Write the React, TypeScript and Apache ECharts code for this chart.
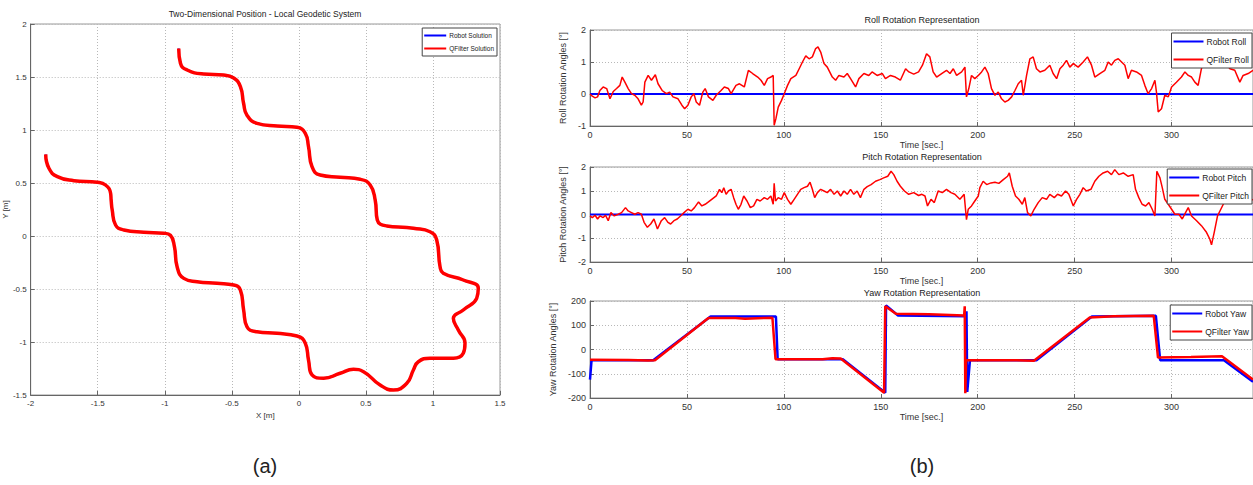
import React, { useEffect, useRef } from 'react';
import * as echarts from 'echarts';

// ---- (a) trajectory, X [m], Y [m] ----
const trajectory: [number, number][] = [
  [-0.896, 1.77], [-0.883, 1.63], [-0.833, 1.566], [-0.71, 1.528], [-0.561, 1.519], [-0.486, 1.49],
  [-0.436, 1.41], [-0.412, 1.25], [-0.387, 1.14], [-0.312, 1.063], [-0.163, 1.038], [-0.014, 1.025],
  [0.048, 0.969], [0.072, 0.842], [0.098, 0.654], [0.159, 0.575], [0.308, 0.554], [0.457, 0.535],
  [0.532, 0.481], [0.569, 0.34], [0.585, 0.151], [0.656, 0.095], [0.805, 0.08], [0.854, 0.073],
  [0.978, 0.04], [1.028, -0.038], [1.053, -0.29], [1.077, -0.352], [1.226, -0.415], [1.338, -0.494],
  [1.326, -0.588], [1.226, -0.698], [1.152, -0.777], [1.189, -0.887], [1.239, -1.012], [1.226, -1.107],
  [1.152, -1.154], [0.978, -1.154], [0.891, -1.186], [0.854, -1.264], [0.805, -1.39], [0.705, -1.453],
  [0.606, -1.406], [0.482, -1.28], [0.407, -1.258], [0.308, -1.295], [0.184, -1.342], [0.098, -1.311],
  [0.072, -1.17], [0.048, -1.012], [-0.014, -0.943], [-0.163, -0.918], [-0.312, -0.903], [-0.387, -0.856],
  [-0.412, -0.698], [-0.436, -0.51], [-0.486, -0.462], [-0.61, -0.446], [-0.759, -0.431], [-0.858, -0.4],
  [-0.908, -0.29], [-0.928, -0.1], [-0.958, 0.007], [-1.007, 0.026], [-1.156, 0.035], [-1.305, 0.057],
  [-1.367, 0.104], [-1.392, 0.245], [-1.4, 0.34], [-1.404, 0.403], [-1.442, 0.481], [-1.503, 0.507],
  [-1.678, 0.522], [-1.801, 0.56], [-1.864, 0.639], [-1.888, 0.77],
];

// ---- (b) roll [deg] vs time [s] ----
const robotRoll: [number, number][] = [[0, 0], [342, 0]];
const qfilterRoll: [number, number][] = [
  [0, 0], [1, -0.06], [2.6, -0.12], [3.9, -0.09], [5.1, 0.11], [6.8, 0.22], [8.6, 0.17], [10.3, -0.15],
  [12, 0.08], [13.7, 0.17], [15.4, 0.27], [16.6, 0.53], [18, 0.37], [19.7, 0.17], [21.4, 0.01], [23.1, -0.04],
  [24.8, -0.15], [26.5, -0.35], [27.4, -0.25], [28.3, 0.37], [30, 0.58], [31.7, 0.43], [33.7, 0.6], [35.1, 0.32],
  [37.2, 0.11], [39.4, 0.01], [41.1, 0.06], [42.8, -0.09], [45.4, -0.15], [47.4, -0.35], [48.8, -0.46], [50.5, -0.35],
  [52.2, -0.09], [53.6, 0.01], [54.8, -0.25], [56.5, -0.35], [58.2, 0.06], [59.4, 0.17], [61.1, -0.09], [63.4, -0.2],
  [65.1, -0.04], [67.6, 0.11], [69.3, 0.22], [71.4, 0.17], [72.8, 0.01], [75.3, 0.27], [77.1, 0.32], [79.6, 0.22],
  [81.7, 0.74], [83.9, 0.64], [86.5, 0.53], [88.2, 0.43], [89.9, 0.27], [91.6, 0.48], [93.3, 0.53], [94.5, 0.58],
  [95, -0.98], [95.9, -0.77], [97.1, -0.41], [98.8, -0.2], [100.2, 0.01], [101.9, 0.27], [103.6, 0.48], [106.2, 0.58],
  [107.9, 0.79], [109.6, 1.0], [111.3, 1.19], [113, 1.1], [114.7, 1.16], [116.4, 1.42], [117.6, 1.47], [119, 1.31],
  [120.7, 0.95], [122.4, 0.84], [125, 0.53], [126.7, 0.43], [128.4, 0.58], [131, 0.53], [132.7, 0.64], [134.4, 0.48],
  [137, 0.22], [138.7, 0.48], [141.3, 0.64], [143.8, 0.58], [145.5, 0.69], [148.1, 0.58], [150.8, 0.64], [152.4, 0.48],
  [155, 0.58], [157.5, 0.53], [160.1, 0.43], [162.8, 0.79], [164.5, 0.69], [167, 0.62], [169.5, 0.69], [171.5, 0.9],
  [173.6, 1.26], [175.3, 1.16], [177, 0.69], [178.8, 0.53], [181.4, 0.64], [183.9, 0.74], [185.7, 0.64], [187.4, 0.79],
  [189.1, 0.58], [191.7, 0.69], [193.4, 0.84], [194.2, -0.09], [195.4, 0.17], [196.8, 0.58], [198.5, 0.48], [200.3, 0.58],
  [202, 0.69], [203.7, 0.84], [205.4, 0.64], [207.1, 0.17], [208.9, -0.04], [210.6, 0.06], [212.3, -0.15], [214, -0.25],
  [215.7, -0.2], [217.5, -0.09], [219.2, 0.11], [220.9, 0.32], [222.6, 0.43], [223.5, -0.04], [225.2, 0.58], [226.9, 1.1],
  [228.6, 1.16], [230.3, 0.79], [232.1, 0.69], [234.6, 0.74], [237.2, 0.9], [238.9, 0.64], [240.7, 0.48], [242.4, 0.79],
  [244.1, 0.9], [245.8, 1.05], [247.5, 0.84], [249.3, 0.95], [251.8, 0.84], [254.4, 1.0], [256.6, 1.16], [258.7, 0.9],
  [260.4, 0.53], [263, 0.64], [265.6, 0.74], [267.3, 1.0], [269, 0.9], [270.7, 1.05], [272.5, 1.1], [274.2, 1.0],
  [275.9, 0.9], [277.6, 0.48], [279.3, 0.74], [281.9, 0.69], [284.5, 0.58], [286.2, 0.27], [287.9, 0.01], [289.7, 0.17],
  [291.4, 0.43], [292.2, 0.06], [293.1, -0.56], [294.8, -0.46], [296.5, -0.04], [298.3, -0.09], [300, 0.22], [302.5, 0.37],
  [305.1, 0.53], [306.9, 0.69], [308.6, 0.58], [310.3, 0.53], [312, 0.37], [313.7, 0.27], [315.4, 0.79], [317.2, 1.1],
  [320, 1.15], [323.2, 1.0], [324.9, 0.84], [327.5, 1.0], [330.1, 0.79], [332.6, 0.74], [335.2, 0.37], [336.9, 0.58],
  [339.5, 0.64], [342, 0.74],
];

// ---- (b) pitch [deg] vs time [s] ----
const robotPitch: [number, number][] = [[0, 0], [342, 0]];
const qfilterPitch: [number, number][] = [
  [0, -0.06], [1.2, -0.13], [2.6, -0.03], [3.9, -0.19], [5.1, -0.06], [6.8, -0.13], [8, -0.03], [9.4, -0.26],
  [10.8, 0.08], [12.5, -0.06], [14.6, 0.01], [16.3, 0.08], [18.3, 0.29], [19.7, 0.15], [21.4, 0.08], [23.1, 0.01],
  [24.8, 0.08], [26.5, 0.01], [27.9, -0.33], [29.6, -0.54], [31.3, -0.4], [33, -0.19], [34.8, -0.61], [36.8, -0.26],
  [38.5, -0.13], [40.2, -0.33], [41.6, -0.4], [43.3, -0.26], [45, -0.19], [46.7, -0.06], [48.5, 0.08], [50.5, 0.22],
  [52.2, 0.15], [53.9, 0.29], [56, 0.53], [57.7, 0.36], [59.4, 0.43], [61.1, 0.53], [62.8, 0.64], [65.1, 0.78],
  [66.8, 1.06], [68, 0.92], [69, 1.13], [70.2, 0.85], [71.4, 0.99], [72.8, 1.06], [74.1, 0.71], [75.3, 0.43],
  [76.5, 0.22], [77.9, 0.43], [79.3, 0.78], [81, 0.57], [82.7, 0.29], [84.4, 0.36], [86.1, 0.64], [87.8, 0.57],
  [89.9, 0.71], [91.6, 0.64], [93.3, 0.78], [94.5, 0.43], [95, 1.31], [95.7, 0.57], [97.1, 0.71], [98.8, 0.64],
  [100.2, 0.92], [101.9, 0.64], [103.6, 0.43], [105.3, 0.64], [107, 0.85], [108.7, 1.06], [110.4, 1.13], [112.2, 1.19],
  [113.5, 1.36], [114.7, 1.06], [115.9, 0.71], [117.3, 0.92], [119, 1.06], [120.7, 0.99], [122.4, 0.92], [124.1, 1.06],
  [125.9, 0.85], [127.6, 0.99], [129.3, 0.78], [131, 0.99], [132.7, 0.85], [134.4, 1.06], [136.1, 0.85], [137.8, 0.99],
  [139.5, 0.71], [141.3, 1.06], [143, 1.17], [145, 1.26], [147.3, 1.4], [149.5, 1.47], [151.5, 1.54], [153.6, 1.61],
  [155.3, 1.82], [156.7, 1.68], [158.4, 1.4], [160.1, 1.19], [162.2, 0.99], [164.4, 0.85], [167, 0.92], [169.5, 0.8],
  [171.2, 0.85], [172.8, 0.78], [174.1, 0.36], [175.9, 0.64], [177.6, 0.5], [179.6, 0.99], [181.7, 0.92], [183.9, 1.06],
  [186.2, 0.92], [188.2, 0.85], [190.8, 0.64], [193, 0.85], [194.2, -0.22], [195.1, 0.22], [196.8, 0.36], [198.5, 0.57],
  [200.3, 0.78], [201.1, 1.13], [202.8, 1.4], [204.6, 1.26], [206.8, 1.33], [208.9, 1.36], [210.9, 1.31], [213.2, 1.47],
  [215.4, 1.61], [216.3, 1.75], [217.8, 1.19], [219.5, 0.78], [221.2, 0.64], [223, 0.43], [224.3, 0.71], [225.7, 0.08],
  [227.4, -0.06], [229.1, 0.22], [231.2, 0.5], [233.3, 0.71], [235.5, 0.64], [237.2, 0.85], [239.5, 0.71], [241.2, 0.85],
  [243.2, 0.78], [245.3, 0.99], [247, 0.85], [249.3, 0.36], [251, 0.64], [252.7, 0.85], [254.4, 1.13], [256.1, 0.99],
  [258.4, 1.06], [260.4, 1.4], [262.5, 1.61], [264.7, 1.75], [267, 1.82], [269, 1.68], [270.7, 1.89], [272.8, 1.68],
  [275.1, 1.75], [277.6, 1.61], [280.2, 1.68], [281.4, 1.06], [283.1, 0.71], [284.8, 0.43], [286.6, 0.36], [288.3, 0.5],
  [290, 0.22], [291.4, -0.06], [292.4, 1.82], [294, 1.54], [295.2, 1.13], [296.5, 0.64], [298.3, 0.43], [300, 0.22],
  [301.7, 0.01], [303.8, 0.01], [305.5, -0.19], [307.2, 0.08], [308.6, 0.29], [310.3, -0.06], [312.9, -0.26], [315.4, -0.47],
  [318, -0.75], [319.7, -1.03], [320.6, -1.28], [322, -0.75], [323.7, -0.06], [325.4, 0.22], [327.5, 0.57], [330.1, 0.85],
  [332.6, 0.71], [335.2, 0.64], [337.8, 0.71], [340.4, 0.57], [342, 0.64],
];

// ---- (b) yaw [deg] vs time [s] ----
const robotYaw: [number, number][] = [
  [0, -124], [0.8, -44], [32.6, -44], [62.2, 136], [95.9, 136], [96.8, -40], [130.4, -40], [152.3, -178],
  [152.7, 182], [158.9, 140], [194.1, 137], [194.2, 158], [194.6, -175], [196, -44], [230.3, -44], [258.9, 136],
  [291.9, 139], [294.1, -44], [327, -44], [342, -133],
];
const qfilterYaw: [number, number][] = [
  [0, -42], [20, -43], [30, -45], [33.5, -44], [61.1, 130], [75, 130], [80, 127], [90, 130], [94.1, 131],
  [95.7, -40], [120, -40], [125, -36], [129.3, -37], [151.7, -178], [152.3, 178], [157.8, 147], [175, 145],
  [193, 140], [193.3, 178], [193.6, -180], [194, -44], [220, -44], [229, -46], [257.8, 132], [270, 137],
  [290.8, 139], [293, -33], [310, -31], [326, -28], [342, -124],
];

const NARROW = "'Liberation Sans Narrow', 'Liberation Sans', Arial, sans-serif";
const SANS = "'Liberation Sans', Arial, sans-serif";
const BLUE = '#0000ff';
const RED = '#ff0000';

function baseAxis(gridIndex: number, fontSize: number, family: string) {
  return {
    type: 'value',
    gridIndex,
    axisLine: { show: true, onZero: false, lineStyle: { color: '#666', width: 1 } },
    axisTick: { show: true, inside: true, length: 4, lineStyle: { color: '#666' } },
    axisLabel: { fontSize, color: '#333', margin: 4, fontFamily: family },
    splitLine: { show: true, lineStyle: { color: '#b8b8b8', type: [1, 2], width: 1 } },
    nameTextStyle: { fontSize, color: '#333', fontFamily: family },
    nameLocation: 'middle',
  };
}

function timeAxis(gridIndex: number) {
  const a: any = baseAxis(gridIndex, 9, SANS);
  return {
    ...a,
    min: 0,
    max: 342,
    interval: 50,
    name: 'Time [sec.]',
    nameGap: 14,
    axisLabel: { ...a.axisLabel, showMaxLabel: false },
  };
}

function angleAxis(gridIndex: number, name: string, min: number, max: number, interval: number) {
  const a: any = baseAxis(gridIndex, 9, SANS);
  return { ...a, min, max, interval, name, nameGap: min <= -100 ? 24 : 13, nameRotate: 90 };
}

function lineSeries(name: string, data: [number, number][], color: string, width: number, idx: number, smooth = false) {
  return {
    type: 'line',
    name,
    data,
    xAxisIndex: idx,
    yAxisIndex: idx,
    symbol: 'none',
    showSymbol: false,
    smooth,
    lineStyle: { color, width },
    itemStyle: { color },
    silent: true,
  };
}

function legend(names: string[], right: number, top: number, fontSize: number, family: string, itemWidth: number, gap: number) {
  return {
    data: names.map((n) => ({ name: n, icon: 'rect' })),
    orient: 'vertical',
    right,
    top,
    itemWidth,
    itemHeight: 2,
    itemGap: gap,
    padding: [4, 3, 4, 2],
    borderColor: '#444',
    borderWidth: 1,
    backgroundColor: '#fff',
    textStyle: { fontSize, color: '#222', fontFamily: family, padding: [0, 0, 0, -2] },
    selectedMode: false,
  };
}

function label(text: string, x: number, y: number, fontSize: number, family: string) {
  return {
    type: 'text',
    x,
    y,
    style: { text, fontSize, fontFamily: family, fill: '#222', textAlign: 'center', textVerticalAlign: 'middle' },
    silent: true,
  };
}

export default function App() {
  const ref = useRef<HTMLDivElement>(null);

  useEffect(() => {
    if (!ref.current) return;
    const chart = echarts.init(ref.current, null, { renderer: 'svg' });
    const gridStyle = { show: true, borderColor: '#999', borderWidth: 1, backgroundColor: 'transparent' };

    const leftX: any = baseAxis(0, 8, NARROW);
    const leftY: any = baseAxis(0, 8, NARROW);

    const option: any = {
      animation: false,
      backgroundColor: '#fff',
      grid: [
        { left: 30, top: 24, width: 470, height: 371, ...gridStyle },
        { left: 590, top: 30, width: 663, height: 96, ...gridStyle },
        { left: 590, top: 167, width: 663, height: 95, ...gridStyle },
        { left: 590, top: 301, width: 663, height: 97, ...gridStyle },
      ],
      xAxis: [
        { ...leftX, min: -2, max: 1.5, interval: 0.5, name: 'X [m]', nameGap: 13 },
        timeAxis(1),
        timeAxis(2),
        timeAxis(3),
      ],
      yAxis: [
        { ...leftY, min: -1.5, max: 2, interval: 0.5, name: 'Y [m]', nameGap: 14, nameRotate: 90 },
        angleAxis(1, 'Roll Rotation Angles [°]', -1, 2, 1),
        angleAxis(2, 'Pitch Rotation Angles [°]', -2, 2, 1),
        angleAxis(3, 'Yaw Rotation Angles [°]', -200, 200, 100),
      ],
      legend: [
        legend(['Robot Solution', 'QFilter Solution'], 756, 28, 6.5, NARROW, 22, 6),
        legend(['Robot Roll', 'QFilter Roll'], 1, 33, 8.5, SANS, 30, 9),
        legend(['Robot Pitch', 'QFilter Pitch'], 1, 169, 8.5, SANS, 30, 9),
        legend(['Robot Yaw', 'QFilter Yaw'], 1, 305, 8.5, SANS, 30, 9),
      ],
      series: [
        lineSeries('Robot Solution', trajectory, BLUE, 2, 0, true),
        lineSeries('QFilter Solution', trajectory, RED, 3.5, 0, true),
        lineSeries('Robot Roll', robotRoll, BLUE, 2, 1),
        lineSeries('QFilter Roll', qfilterRoll, RED, 1.5, 1),
        lineSeries('Robot Pitch', robotPitch, BLUE, 2, 2),
        lineSeries('QFilter Pitch', qfilterPitch, RED, 1.5, 2),
        lineSeries('Robot Yaw', robotYaw, BLUE, 2.5, 3),
        lineSeries('QFilter Yaw', qfilterYaw, RED, 2.5, 3),
      ],
      graphic: [
        label('Two-Dimensional Position - Local Geodetic System', 265, 14, 8.5, NARROW),
        label('Roll Rotation Representation', 922, 20, 9, SANS),
        label('Pitch Rotation Representation', 922, 157, 9, SANS),
        label('Yaw Rotation Representation', 922, 293, 9, SANS),
        label('(a)', 265, 466, 20, SANS),
        label('(b)', 922, 466, 20, SANS),
      ],
    };
    chart.setOption(option);
    return () => chart.dispose();
  }, []);

  return (
    <div
      ref={ref}
      style={{ position: 'absolute', left: 0, top: 0, width: 1253, height: 485, background: '#fff' }}
    />
  );
}
